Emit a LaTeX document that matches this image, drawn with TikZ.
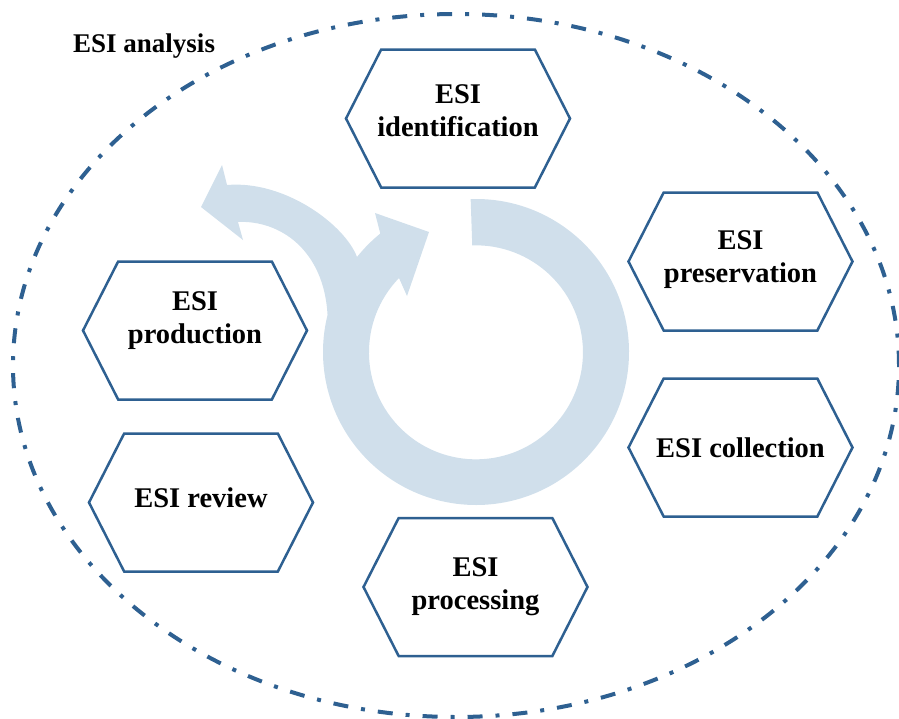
\documentclass[tikz,border=0pt]{standalone}
\usepackage{fontspec}
\setmainfont{Liberation Serif}
\usepackage{tikz}
\usetikzlibrary{shapes.symbols}

\definecolor{esiblue}{RGB}{46,96,145}
\definecolor{ringblue}{RGB}{208,223,235}
\newcommand{\esifont}{\bfseries\fontsize{27}{33}\selectfont}
\newcommand{\stepfont}{\bfseries\fontsize{28.5}{33}\selectfont}

\begin{document}
\begin{tikzpicture}[x=1pt, y=1pt, node distance=186pt,
  hexa/.style={signal, signal to=west and east, signal pointer angle=126,
    draw=esiblue, line width=2.5pt, fill=white, minimum width=224pt,
    minimum height=138pt, inner xsep=-12pt, inner ysep=0pt, align=center,
    font=\stepfont}]
\useasboundingbox (0,0) rectangle (899,-718);
% outer frame
\draw[esiblue, line width=4pt, dash pattern=on 15pt off 13pt on 4pt off 13pt]
  (456,-365.5) ellipse [x radius=443, y radius=351.5];
\node (title) [anchor=base west, inner sep=0pt, font=\esifont] at (73,-52) {ESI analysis};
% cycle arrow in the middle
\fill[ringblue] (476,-352) ++(92:153) arc[start angle=92, end angle=-194, radius=153]
  .. controls (324,-250) and (280,-220) .. (238,-222)
  -- (243,-240) -- (201,-207) -- (222,-165) -- (227,-185)
  .. controls (285,-180) and (345,-225) .. (357,-257)
  arc[start angle=141.4, end angle=129, radius=153]
  -- (375,-213) -- (429,-232) -- (407,-296) -- (399,-278)
  arc[start angle=136, end angle=452, radius=107] -- cycle;
% steps
\node[hexa] (idf) [text depth=16pt] at (458,-118.5) {ESI\\identification};
\node[hexa] (prs) [text depth=10pt] at (740.5,-261.5) {ESI\\preservation};
\node[hexa] (col) [below of=prs] {ESI collection};
\node[hexa] (prc) at (475.5,-587) {ESI\\processing};
\node[hexa] (rev) [text depth=10pt] at (201,-502.5) {ESI review};
\node[hexa] (prd) [text depth=26pt] at (195,-330.5) {ESI\\production};
\end{tikzpicture}
\end{document}
